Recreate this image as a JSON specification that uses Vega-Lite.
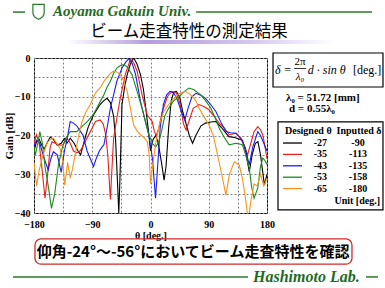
{
  "$schema": "https://vega.github.io/schema/vega-lite/v6.json",
  "autosize": {"type": "none"},
  "width": 233,
  "height": 155,
  "padding": {"left": 34, "top": 58, "right": 118, "bottom": 75},
  "background": "white",
  "config": {"view": {"stroke": "black", "strokeWidth": 1}},
  "data": {"values": [{"note": "annotation"}]},
  "resolve": {"axis": {"x": "independent", "y": "independent"}},
  "datasets": {
    "curves": [
      {"series":"-27","theta":-180,"gain":-24},{"series":"-27","theta":-176,"gain":-21.5},{"series":"-27","theta":-172,"gain":-21},{"series":"-27","theta":-168,"gain":-22.5},{"series":"-27","theta":-164,"gain":-23.5},{"series":"-27","theta":-160,"gain":-22},{"series":"-27","theta":-155,"gain":-20.4},{"series":"-27","theta":-150,"gain":-21},{"series":"-27","theta":-144,"gain":-22.5},{"series":"-27","theta":-138,"gain":-22},{"series":"-27","theta":-133,"gain":-20.8},{"series":"-27","theta":-129,"gain":-22},{"series":"-27","theta":-124,"gain":-20.7},{"series":"-27","theta":-118,"gain":-22},{"series":"-27","theta":-112,"gain":-24},{"series":"-27","theta":-108,"gain":-25},{"series":"-27","theta":-104,"gain":-22.5},{"series":"-27","theta":-100,"gain":-20},{"series":"-27","theta":-96,"gain":-17.7},{"series":"-27","theta":-88,"gain":-14.7},{"series":"-27","theta":-78,"gain":-12},{"series":"-27","theta":-72,"gain":-11},{"series":"-27","theta":-67,"gain":-10.4},{"series":"-27","theta":-62,"gain":-11.5},{"series":"-27","theta":-57,"gain":-15},{"series":"-27","theta":-54,"gain":-21},{"series":"-27","theta":-51,"gain":-32},{"series":"-27","theta":-49,"gain":-40},{"series":"-27","theta":-47,"gain":-30},{"series":"-27","theta":-44,"gain":-12},{"series":"-27","theta":-40,"gain":-7.5},{"series":"-27","theta":-36,"gain":-4.3},{"series":"-27","theta":-31,"gain":-1.5},{"series":"-27","theta":-26,"gain":0},{"series":"-27","theta":-21,"gain":-1.5},{"series":"-27","theta":-15.5,"gain":-4.3},{"series":"-27","theta":-11,"gain":-8},{"series":"-27","theta":-8,"gain":-12},{"series":"-27","theta":-3,"gain":-19},{"series":"-27","theta":0,"gain":-24},{"series":"-27","theta":4,"gain":-21},{"series":"-27","theta":8,"gain":-20},{"series":"-27","theta":12,"gain":-22},{"series":"-27","theta":17,"gain":-27},{"series":"-27","theta":21,"gain":-31.5},{"series":"-27","theta":24,"gain":-28},{"series":"-27","theta":28,"gain":-18},{"series":"-27","theta":32,"gain":-11},{"series":"-27","theta":36,"gain":-8.8},{"series":"-27","theta":40,"gain":-8.6},{"series":"-27","theta":45,"gain":-10},{"series":"-27","theta":50,"gain":-14},{"series":"-27","theta":55,"gain":-17},{"series":"-27","theta":60,"gain":-20},{"series":"-27","theta":65,"gain":-22},{"series":"-27","theta":70,"gain":-20},{"series":"-27","theta":78,"gain":-17.5},{"series":"-27","theta":85,"gain":-16.8},{"series":"-27","theta":93,"gain":-16.5},{"series":"-27","theta":101,"gain":-16.4},{"series":"-27","theta":110,"gain":-18},{"series":"-27","theta":121,"gain":-20.3},{"series":"-27","theta":130,"gain":-20.5},{"series":"-27","theta":142,"gain":-21.2},{"series":"-27","theta":147,"gain":-24},{"series":"-27","theta":152.6,"gain":-29.4},{"series":"-27","theta":157,"gain":-25},{"series":"-27","theta":162,"gain":-22},{"series":"-27","theta":166,"gain":-21.6},{"series":"-27","theta":170,"gain":-25},{"series":"-27","theta":176,"gain":-32.8},{"series":"-27","theta":180,"gain":-30},

      {"series":"-35","theta":-180,"gain":-22},{"series":"-35","theta":-176,"gain":-19.8},{"series":"-35","theta":-172,"gain":-22},{"series":"-35","theta":-168,"gain":-28},{"series":"-35","theta":-163,"gain":-36.2},{"series":"-35","theta":-159,"gain":-30},{"series":"-35","theta":-155,"gain":-23},{"series":"-35","theta":-152,"gain":-21.6},{"series":"-35","theta":-147,"gain":-22},{"series":"-35","theta":-140,"gain":-22.5},{"series":"-35","theta":-135,"gain":-22.4},{"series":"-35","theta":-129,"gain":-20.7},{"series":"-35","theta":-124,"gain":-22},{"series":"-35","theta":-119,"gain":-24},{"series":"-35","theta":-114,"gain":-24.5},{"series":"-35","theta":-109,"gain":-24},{"series":"-35","theta":-105,"gain":-23},{"series":"-35","theta":-101,"gain":-21.6},{"series":"-35","theta":-93,"gain":-19},{"series":"-35","theta":-85,"gain":-16.4},{"series":"-35","theta":-78,"gain":-16},{"series":"-35","theta":-73,"gain":-17},{"series":"-35","theta":-69,"gain":-20},{"series":"-35","theta":-66,"gain":-25},{"series":"-35","theta":-62,"gain":-36.5},{"series":"-35","theta":-60,"gain":-30},{"series":"-35","theta":-57,"gain":-20.7},{"series":"-35","theta":-52,"gain":-15.5},{"series":"-35","theta":-46.6,"gain":-10.3},{"series":"-35","theta":-39,"gain":-4.3},{"series":"-35","theta":-31,"gain":-0.3},{"series":"-35","theta":-26,"gain":-1.2},{"series":"-35","theta":-20.7,"gain":-3.4},{"series":"-35","theta":-13,"gain":-9.5},{"series":"-35","theta":-5,"gain":-14.7},{"series":"-35","theta":2.6,"gain":-16.4},{"series":"-35","theta":6,"gain":-19},{"series":"-35","theta":9,"gain":-20},{"series":"-35","theta":13,"gain":-18},{"series":"-35","theta":18,"gain":-14},{"series":"-35","theta":26,"gain":-10},{"series":"-35","theta":33,"gain":-8.6},{"series":"-35","theta":40,"gain":-9},{"series":"-35","theta":46,"gain":-12},{"series":"-35","theta":51,"gain":-17},{"series":"-35","theta":55,"gain":-18.6},{"series":"-35","theta":60,"gain":-16},{"series":"-35","theta":66,"gain":-13},{"series":"-35","theta":75,"gain":-12},{"series":"-35","theta":82,"gain":-12.5},{"series":"-35","theta":90,"gain":-13.3},{"series":"-35","theta":98,"gain":-15},{"series":"-35","theta":106,"gain":-16.8},{"series":"-35","theta":114,"gain":-18},{"series":"-35","theta":121.6,"gain":-19.8},{"series":"-35","theta":127,"gain":-19.6},{"series":"-35","theta":132,"gain":-19.4},{"series":"-35","theta":140,"gain":-21},{"series":"-35","theta":146,"gain":-23},{"series":"-35","theta":150,"gain":-25},{"series":"-35","theta":155,"gain":-22},{"series":"-35","theta":160,"gain":-19},{"series":"-35","theta":165.7,"gain":-17.7},{"series":"-35","theta":170,"gain":-18.5},{"series":"-35","theta":173.5,"gain":-19.8},{"series":"-35","theta":177,"gain":-23},{"series":"-35","theta":180,"gain":-26},

      {"series":"-43","theta":-180,"gain":-22.5},{"series":"-43","theta":-176,"gain":-21.2},{"series":"-43","theta":-171,"gain":-22},{"series":"-43","theta":-166,"gain":-25},{"series":"-43","theta":-162,"gain":-27},{"series":"-43","theta":-158,"gain":-28.9},{"series":"-43","theta":-154,"gain":-26},{"series":"-43","theta":-150,"gain":-24.2},{"series":"-43","theta":-144,"gain":-25},{"series":"-43","theta":-138,"gain":-29.5},{"series":"-43","theta":-133,"gain":-24},{"series":"-43","theta":-129,"gain":-21},{"series":"-43","theta":-124,"gain":-16.4},{"series":"-43","theta":-119,"gain":-16.8},{"series":"-43","theta":-114,"gain":-17.5},{"series":"-43","theta":-108,"gain":-19},{"series":"-43","theta":-104,"gain":-20},{"series":"-43","theta":-98,"gain":-24},{"series":"-43","theta":-93,"gain":-26},{"series":"-43","theta":-88,"gain":-28},{"series":"-43","theta":-84,"gain":-26},{"series":"-43","theta":-79,"gain":-24},{"series":"-43","theta":-75,"gain":-23},{"series":"-43","theta":-72,"gain":-22.4},{"series":"-43","theta":-67,"gain":-18},{"series":"-43","theta":-62,"gain":-12.9},{"series":"-43","theta":-57,"gain":-9.5},{"series":"-43","theta":-52,"gain":-6},{"series":"-43","theta":-44,"gain":-2.6},{"series":"-43","theta":-38,"gain":-1},{"series":"-43","theta":-33.6,"gain":-0.2},{"series":"-43","theta":-28,"gain":-1.5},{"series":"-43","theta":-23,"gain":-4.3},{"series":"-43","theta":-15.5,"gain":-11.2},{"series":"-43","theta":-7.8,"gain":-16.4},{"series":"-43","theta":-2.6,"gain":-19.8},{"series":"-43","theta":3,"gain":-26},{"series":"-43","theta":7.8,"gain":-36.2},{"series":"-43","theta":11,"gain":-28},{"series":"-43","theta":15,"gain":-18},{"series":"-43","theta":20,"gain":-12},{"series":"-43","theta":25,"gain":-9.5},{"series":"-43","theta":30,"gain":-8.6},{"series":"-43","theta":36,"gain":-9},{"series":"-43","theta":42,"gain":-11},{"series":"-43","theta":48,"gain":-14},{"series":"-43","theta":53,"gain":-16},{"series":"-43","theta":58,"gain":-13},{"series":"-43","theta":64,"gain":-10},{"series":"-43","theta":70,"gain":-9.1},{"series":"-43","theta":78,"gain":-9.6},{"series":"-43","theta":85,"gain":-10.4},{"series":"-43","theta":93,"gain":-12},{"series":"-43","theta":101,"gain":-13.8},{"series":"-43","theta":110,"gain":-17},{"series":"-43","theta":116.5,"gain":-19},{"series":"-43","theta":124,"gain":-19.3},{"series":"-43","theta":132,"gain":-19.4},{"series":"-43","theta":139.8,"gain":-20.7},{"series":"-43","theta":146,"gain":-23},{"series":"-43","theta":152.6,"gain":-27.6},{"series":"-43","theta":158,"gain":-23},{"series":"-43","theta":165.7,"gain":-19},{"series":"-43","theta":170,"gain":-20},{"series":"-43","theta":176,"gain":-22.4},{"series":"-43","theta":180,"gain":-24},

      {"series":"-53","theta":-180,"gain":-23},{"series":"-53","theta":-178,"gain":-25},{"series":"-53","theta":-174,"gain":-22},{"series":"-53","theta":-171,"gain":-19},{"series":"-53","theta":-167,"gain":-22},{"series":"-53","theta":-163,"gain":-28},{"series":"-53","theta":-158,"gain":-33},{"series":"-53","theta":-153,"gain":-38.8},{"series":"-53","theta":-148,"gain":-35},{"series":"-53","theta":-142,"gain":-27.3},{"series":"-53","theta":-136,"gain":-23},{"series":"-53","theta":-131,"gain":-20.7},{"series":"-53","theta":-124,"gain":-19},{"series":"-53","theta":-119,"gain":-19},{"series":"-53","theta":-114,"gain":-19},{"series":"-53","theta":-108,"gain":-18},{"series":"-53","theta":-103.5,"gain":-17.3},{"series":"-53","theta":-98,"gain":-16.5},{"series":"-53","theta":-93,"gain":-15.5},{"series":"-53","theta":-88,"gain":-14.5},{"series":"-53","theta":-83,"gain":-12.9},{"series":"-53","theta":-77,"gain":-11},{"series":"-53","theta":-72,"gain":-9.5},{"series":"-53","theta":-67,"gain":-7.5},{"series":"-53","theta":-62,"gain":-6},{"series":"-53","theta":-57,"gain":-4},{"series":"-53","theta":-52,"gain":-2.6},{"series":"-53","theta":-46,"gain":-1.9},{"series":"-53","theta":-41,"gain":-1.7},{"series":"-53","theta":-35,"gain":-2.5},{"series":"-53","theta":-28.5,"gain":-4.3},{"series":"-53","theta":-20.7,"gain":-8.6},{"series":"-53","theta":-13,"gain":-13},{"series":"-53","theta":-7.8,"gain":-16.4},{"series":"-53","theta":-2.6,"gain":-19.8},{"series":"-53","theta":3,"gain":-22},{"series":"-53","theta":8,"gain":-23},{"series":"-53","theta":12.9,"gain":-21.6},{"series":"-53","theta":17,"gain":-19},{"series":"-53","theta":22,"gain":-15},{"series":"-53","theta":28,"gain":-13},{"series":"-53","theta":36,"gain":-11},{"series":"-53","theta":44,"gain":-10},{"series":"-53","theta":50,"gain":-9},{"series":"-53","theta":55,"gain":-8.3},{"series":"-53","theta":59.5,"gain":-7.75},{"series":"-53","theta":67,"gain":-8.2},{"series":"-53","theta":77.6,"gain":-9.5},{"series":"-53","theta":85,"gain":-11},{"series":"-53","theta":93,"gain":-12.9},{"series":"-53","theta":100,"gain":-15.5},{"series":"-53","theta":106,"gain":-18.1},{"series":"-53","theta":114,"gain":-20.5},{"series":"-53","theta":121.6,"gain":-22.4},{"series":"-53","theta":132,"gain":-22},{"series":"-53","theta":142,"gain":-22.4},{"series":"-53","theta":147,"gain":-25},{"series":"-53","theta":152.6,"gain":-28.5},{"series":"-53","theta":156,"gain":-33},{"series":"-53","theta":160,"gain":-36.2},{"series":"-53","theta":165.7,"gain":-33.6},{"series":"-53","theta":170,"gain":-28},{"series":"-53","theta":173.5,"gain":-25.8},{"series":"-53","theta":177,"gain":-26.5},{"series":"-53","theta":180,"gain":-27.5},

      {"series":"-65","theta":-180,"gain":-27},{"series":"-65","theta":-176,"gain":-33},{"series":"-65","theta":-172,"gain":-29},{"series":"-65","theta":-166,"gain":-25},{"series":"-65","theta":-160,"gain":-22},{"series":"-65","theta":-155,"gain":-21},{"series":"-65","theta":-150,"gain":-20.7},{"series":"-65","theta":-145,"gain":-22},{"series":"-65","theta":-140,"gain":-23.3},{"series":"-65","theta":-136,"gain":-26},{"series":"-65","theta":-132.5,"gain":-32.8},{"series":"-65","theta":-128,"gain":-27},{"series":"-65","theta":-124,"gain":-31},{"series":"-65","theta":-121,"gain":-29},{"series":"-65","theta":-116.5,"gain":-25},{"series":"-65","theta":-111,"gain":-20},{"series":"-65","theta":-106,"gain":-16.5},{"series":"-65","theta":-100,"gain":-14},{"series":"-65","theta":-93,"gain":-12},{"series":"-65","theta":-88,"gain":-10},{"series":"-65","theta":-83,"gain":-8.6},{"series":"-65","theta":-77,"gain":-7.5},{"series":"-65","theta":-72,"gain":-6},{"series":"-65","theta":-67,"gain":-5},{"series":"-65","theta":-62,"gain":-4},{"series":"-65","theta":-57,"gain":-3.4},{"series":"-65","theta":-52,"gain":-3.6},{"series":"-65","theta":-46.6,"gain":-4.3},{"series":"-65","theta":-41,"gain":-6},{"series":"-65","theta":-36,"gain":-8.6},{"series":"-65","theta":-31,"gain":-13},{"series":"-65","theta":-26,"gain":-17.3},{"series":"-65","theta":-20,"gain":-19},{"series":"-65","theta":-15.5,"gain":-19.8},{"series":"-65","theta":-10,"gain":-20.5},{"series":"-65","theta":-5,"gain":-21.6},{"series":"-65","theta":-2,"gain":-25},{"series":"-65","theta":0,"gain":-32.4},{"series":"-65","theta":3,"gain":-28},{"series":"-65","theta":8,"gain":-22},{"series":"-65","theta":14,"gain":-17},{"series":"-65","theta":20,"gain":-14},{"series":"-65","theta":28,"gain":-12},{"series":"-65","theta":36,"gain":-10.5},{"series":"-65","theta":44,"gain":-9.2},{"series":"-65","theta":54.3,"gain":-8.6},{"series":"-65","theta":62,"gain":-9.5},{"series":"-65","theta":70,"gain":-11},{"series":"-65","theta":75,"gain":-12.9},{"series":"-65","theta":82,"gain":-15},{"series":"-65","theta":90.5,"gain":-17.3},{"series":"-65","theta":97,"gain":-20},{"series":"-65","theta":103.6,"gain":-25},{"series":"-65","theta":110,"gain":-30},{"series":"-65","theta":116.5,"gain":-35.4},{"series":"-65","theta":122,"gain":-30},{"series":"-65","theta":129.4,"gain":-26.8},{"series":"-65","theta":137,"gain":-27.6},{"series":"-65","theta":142,"gain":-31},{"series":"-65","theta":147.5,"gain":-37.1},{"series":"-65","theta":151,"gain":-42},{"series":"-65","theta":155,"gain":-37},{"series":"-65","theta":160,"gain":-32.5},{"series":"-65","theta":165,"gain":-33},{"series":"-65","theta":170,"gain":-30},{"series":"-65","theta":175,"gain":-33},{"series":"-65","theta":180,"gain":-31}
    ]
  },
  "layer": [
    {
      "data": {"name": "curves"},
      "mark": {"type": "line", "clip": true, "strokeWidth": 1.1, "interpolate": "linear"},
      "encoding": {
        "x": {"field": "theta", "type": "quantitative",
              "scale": {"domain": [-180, 180], "nice": false, "zero": false},
              "axis": {"title": "θ [deg.]", "values": [-180,-135,-90,-45,0,45,90,135,180],
                       "labelExpr": "datum.value % 90 === 0 ? datum.label : ''",
                       "labelFlush": false, "labelOverlap": false, "ticks": false, "domain": false,
                       "grid": true, "gridDash": [2,2], "gridColor": "#808080",
                       "labelFont": "Liberation Serif", "labelFontWeight": "bold", "labelFontSize": 10, "labelColor": "black", "labelPadding": 6,
                       "titleFont": "Liberation Serif", "titleFontWeight": "bold", "titleFontSize": 10, "titleColor": "black", "titlePadding": 1}},
        "y": {"field": "gain", "type": "quantitative",
              "scale": {"domain": [-40, 0], "nice": false, "zero": false},
              "axis": {"title": "Gain [dB]", "values": [-40,-35,-30,-25,-20,-15,-10,-5,0],
                       "labelExpr": "datum.value % 10 === 0 ? datum.label : ''",
                       "labelOverlap": false, "ticks": false, "domain": false,
                       "grid": true, "gridDash": [2,2], "gridColor": "#808080",
                       "labelFont": "Liberation Serif", "labelFontWeight": "bold", "labelFontSize": 10, "labelColor": "black", "labelPadding": 4,
                       "titleFont": "Liberation Serif", "titleFontWeight": "bold", "titleFontSize": 11, "titleColor": "black", "titlePadding": 0}},
        "color": {"field": "series", "type": "nominal",
                  "scale": {"domain": ["-27","-35","-43","-53","-65"], "range": ["#000000","#e8201c","#1c1cf0","#1a8a1a","#f7941d"]},
                  "legend": null},
        "detail": {"field": "series"}
      }
    },
    {"mark": {"type": "rule", "color": "#2a7a2a", "strokeWidth": 1.5}, "encoding": {"x": {"datum": -212.4, "type": "quantitative", "axis": null}, "x2": {"datum": -193.9}, "y": {"datum": 11.85, "type": "quantitative", "axis": null}}},
    {"mark": {"type": "rule", "color": "#2a7a2a", "strokeWidth": 1.5}, "encoding": {"x": {"datum": 70.5, "type": "quantitative", "axis": null}, "x2": {"datum": 342.2}, "y": {"datum": 11.85, "type": "quantitative", "axis": null}}},
    {"mark": {"type": "point", "shape": "M -0.8 -1 L 0.8 -1 L 0.8 0.1 Q 0.8 0.8 0 1.1 Q -0.8 0.8 -0.8 0.1 Z", "size": 200, "filled": false, "color": "#2a7a2a", "strokeWidth": 1.2, "opacity": 1}, "encoding": {"x": {"datum": -173.0, "type": "quantitative", "axis": null}, "y": {"datum": 12.0, "type": "quantitative", "axis": null}}},
    {"mark": {"type": "text", "text": "Aoyama Gakuin Univ.", "align": "left", "baseline": "middle", "font": "Liberation Serif", "fontStyle": "italic", "fontWeight": "bold", "fontSize": 15, "color": "#1f6b1f"}, "encoding": {"x": {"datum": -150.6, "type": "quantitative", "axis": null}, "y": {"datum": 12.25, "type": "quantitative", "axis": null}}},
    {"mark": {"type": "rect", "fill": {"gradient": "linear", "x1": 0, "x2": 1, "y1": 0, "y2": 0, "stops": [{"offset": 0, "color": "#ffffff"}, {"offset": 0.3, "color": "#b49ddf"}, {"offset": 0.7, "color": "#d5c8f0"}, {"offset": 1, "color": "#ffffff"}]}}, "encoding": {"x": {"datum": -129.0, "type": "quantitative", "axis": null}, "x2": {"datum": 282.0}, "y": {"datum": 4.65, "type": "quantitative", "axis": null}, "y2": {"datum": 3.6}}},
    {"mark": {"type": "text", "text": "ビーム走査特性の測定結果", "align": "center", "baseline": "middle", "font": "Noto Sans CJK JP", "fontSize": 16.5, "color": "black"}, "encoding": {"x": {"datum": 59.5, "type": "quantitative", "axis": null}, "y": {"datum": 6.7, "type": "quantitative", "axis": null}}},

    {"mark": {"type": "rect", "fill": null, "stroke": "black", "strokeWidth": 1.2}, "encoding": {"x": {"datum": 189.3, "type": "quantitative", "axis": null}, "x2": {"datum": 359.2}, "y": {"datum": 1.29, "type": "quantitative", "axis": null}, "y2": {"datum": -7.48}}},
    {"mark": {"type": "text", "text": "δ =", "align": "left", "baseline": "middle", "font": "Liberation Serif", "fontStyle": "italic", "fontSize": 12, "color": "black"}, "encoding": {"x": {"datum": 192.4, "type": "quantitative", "axis": null}, "y": {"datum": -3.1, "type": "quantitative", "axis": null}}},
    {"mark": {"type": "text", "text": "2π", "align": "center", "baseline": "middle", "font": "Liberation Serif", "fontSize": 11, "color": "black"}, "encoding": {"x": {"datum": 231.0, "type": "quantitative", "axis": null}, "y": {"datum": -1.03, "type": "quantitative", "axis": null}}},
    {"mark": {"type": "rule", "color": "black", "strokeWidth": 0.8}, "encoding": {"x": {"datum": 222.0, "type": "quantitative", "axis": null}, "x2": {"datum": 240.5}, "y": {"datum": -2.71, "type": "quantitative", "axis": null}}},
    {"mark": {"type": "text", "text": "λ₀", "align": "center", "baseline": "middle", "font": "Liberation Serif", "fontStyle": "italic", "fontSize": 11, "color": "black"}, "encoding": {"x": {"datum": 231.0, "type": "quantitative", "axis": null}, "y": {"datum": -4.9, "type": "quantitative", "axis": null}}},
    {"mark": {"type": "text", "text": "d · sin θ", "align": "left", "baseline": "middle", "font": "Liberation Serif", "fontStyle": "italic", "fontSize": 12, "color": "black"}, "encoding": {"x": {"datum": 243.0, "type": "quantitative", "axis": null}, "y": {"datum": -3.1, "type": "quantitative", "axis": null}}},
    {"mark": {"type": "text", "text": "[deg.]", "align": "left", "baseline": "middle", "font": "Liberation Serif", "fontSize": 12, "color": "black"}, "encoding": {"x": {"datum": 312.9, "type": "quantitative", "axis": null}, "y": {"datum": -3.1, "type": "quantitative", "axis": null}}},
    {"mark": {"type": "text", "text": "λ₀ = 51.72 [mm]", "align": "left", "baseline": "middle", "font": "Liberation Serif", "fontWeight": "bold", "fontSize": 11, "color": "black"}, "encoding": {"x": {"datum": 209.4, "type": "quantitative", "axis": null}, "y": {"datum": -10.2, "type": "quantitative", "axis": null}}},
    {"mark": {"type": "text", "text": "d  = 0.55λ₀", "align": "left", "baseline": "middle", "font": "Liberation Serif", "fontWeight": "bold", "fontSize": 11, "color": "black"}, "encoding": {"x": {"datum": 214.0, "type": "quantitative", "axis": null}, "y": {"datum": -13.1, "type": "quantitative", "axis": null}}},

    {"mark": {"type": "rect", "fill": null, "stroke": "black", "strokeWidth": 1.2}, "encoding": {"x": {"datum": 197.0, "type": "quantitative", "axis": null}, "x2": {"datum": 359.2}, "y": {"datum": -16.5, "type": "quantitative", "axis": null}, "y2": {"datum": -39.2}}},
    {"mark": {"type": "text", "text": "Designed θ", "align": "left", "baseline": "middle", "font": "Liberation Serif", "fontWeight": "bold", "fontSize": 10, "color": "black"}, "encoding": {"x": {"datum": 207.8, "type": "quantitative", "axis": null}, "y": {"datum": -18.84, "type": "quantitative", "axis": null}}},
    {"mark": {"type": "text", "text": "Inputted δ", "align": "left", "baseline": "middle", "font": "Liberation Serif", "fontWeight": "bold", "fontSize": 10, "color": "black"}, "encoding": {"x": {"datum": 287.5, "type": "quantitative", "axis": null}, "y": {"datum": -18.84, "type": "quantitative", "axis": null}}},
    {"mark": {"type": "text", "text": ["-27","-35","-43","-53","-65"], "lineHeight": 11.4, "align": "right", "baseline": "middle", "font": "Liberation Serif", "fontWeight": "bold", "fontSize": 10, "color": "black"}, "encoding": {"x": {"datum": 272.7, "type": "quantitative", "axis": null}, "y": {"datum": -21.94, "type": "quantitative", "axis": null}}},
    {"mark": {"type": "text", "text": ["-90","-113","-135","-158","-180"], "lineHeight": 11.4, "align": "center", "baseline": "middle", "font": "Liberation Serif", "fontWeight": "bold", "fontSize": 10, "color": "black"}, "encoding": {"x": {"datum": 320.6, "type": "quantitative", "axis": null}, "y": {"datum": -21.94, "type": "quantitative", "axis": null}}},
    {"mark": {"type": "rule", "color": "#000000", "strokeWidth": 1.3}, "encoding": {"x": {"datum": 204.7, "type": "quantitative", "axis": null}, "x2": {"datum": 234.1}, "y": {"datum": -21.94, "type": "quantitative", "axis": null}}},
    {"mark": {"type": "rule", "color": "#e8201c", "strokeWidth": 1.3}, "encoding": {"x": {"datum": 204.7, "type": "quantitative", "axis": null}, "x2": {"datum": 234.1}, "y": {"datum": -24.88, "type": "quantitative", "axis": null}}},
    {"mark": {"type": "rule", "color": "#1c1cf0", "strokeWidth": 1.3}, "encoding": {"x": {"datum": 204.7, "type": "quantitative", "axis": null}, "x2": {"datum": 234.1}, "y": {"datum": -27.82, "type": "quantitative", "axis": null}}},
    {"mark": {"type": "rule", "color": "#1a8a1a", "strokeWidth": 1.3}, "encoding": {"x": {"datum": 204.7, "type": "quantitative", "axis": null}, "x2": {"datum": 234.1}, "y": {"datum": -30.76, "type": "quantitative", "axis": null}}},
    {"mark": {"type": "rule", "color": "#f7941d", "strokeWidth": 1.3}, "encoding": {"x": {"datum": 204.7, "type": "quantitative", "axis": null}, "x2": {"datum": 234.1}, "y": {"datum": -33.70, "type": "quantitative", "axis": null}}},
    {"mark": {"type": "text", "text": "Unit [deg.]", "align": "right", "baseline": "middle", "font": "Liberation Serif", "fontWeight": "bold", "fontSize": 10, "color": "black"}, "encoding": {"x": {"datum": 354.6, "type": "quantitative", "axis": null}, "y": {"datum": -36.9, "type": "quantitative", "axis": null}}},

    {"mark": {"type": "rect", "fill": null, "stroke": "#d42a2a", "strokeWidth": 1.3, "cornerRadius": 6}, "encoding": {"x": {"datum": -178.5, "type": "quantitative", "axis": null}, "x2": {"datum": 311.3}, "y": {"datum": -46.7, "type": "quantitative", "axis": null}, "y2": {"datum": -53.2}}},
    {"mark": {"type": "text", "text": "仰角-24°～-56°においてビーム走査特性を確認", "align": "center", "baseline": "middle", "font": "Noto Sans CJK JP", "fontWeight": "bold", "fontSize": 15, "color": "black"}, "encoding": {"x": {"datum": 65.7, "type": "quantitative", "axis": null}, "y": {"datum": -50.1, "type": "quantitative", "axis": null}}},
    {"mark": {"type": "rule", "color": "#2a7a2a", "strokeWidth": 1.5}, "encoding": {"x": {"datum": -212.4, "type": "quantitative", "axis": null}, "x2": {"datum": 150.6}, "y": {"datum": -56.5, "type": "quantitative", "axis": null}}},
    {"mark": {"type": "text", "text": "Hashimoto Lab.", "align": "left", "baseline": "middle", "font": "Liberation Serif", "fontStyle": "italic", "fontWeight": "bold", "fontSize": 16, "color": "#1f6b1f"}, "encoding": {"x": {"datum": 158.4, "type": "quantitative", "axis": null}, "y": {"datum": -56.5, "type": "quantitative", "axis": null}}},
    {"mark": {"type": "rule", "color": "#2a7a2a", "strokeWidth": 1.5}, "encoding": {"x": {"datum": 333.0, "type": "quantitative", "axis": null}, "x2": {"datum": 351.5}, "y": {"datum": -56.5, "type": "quantitative", "axis": null}}}
  ]
}
